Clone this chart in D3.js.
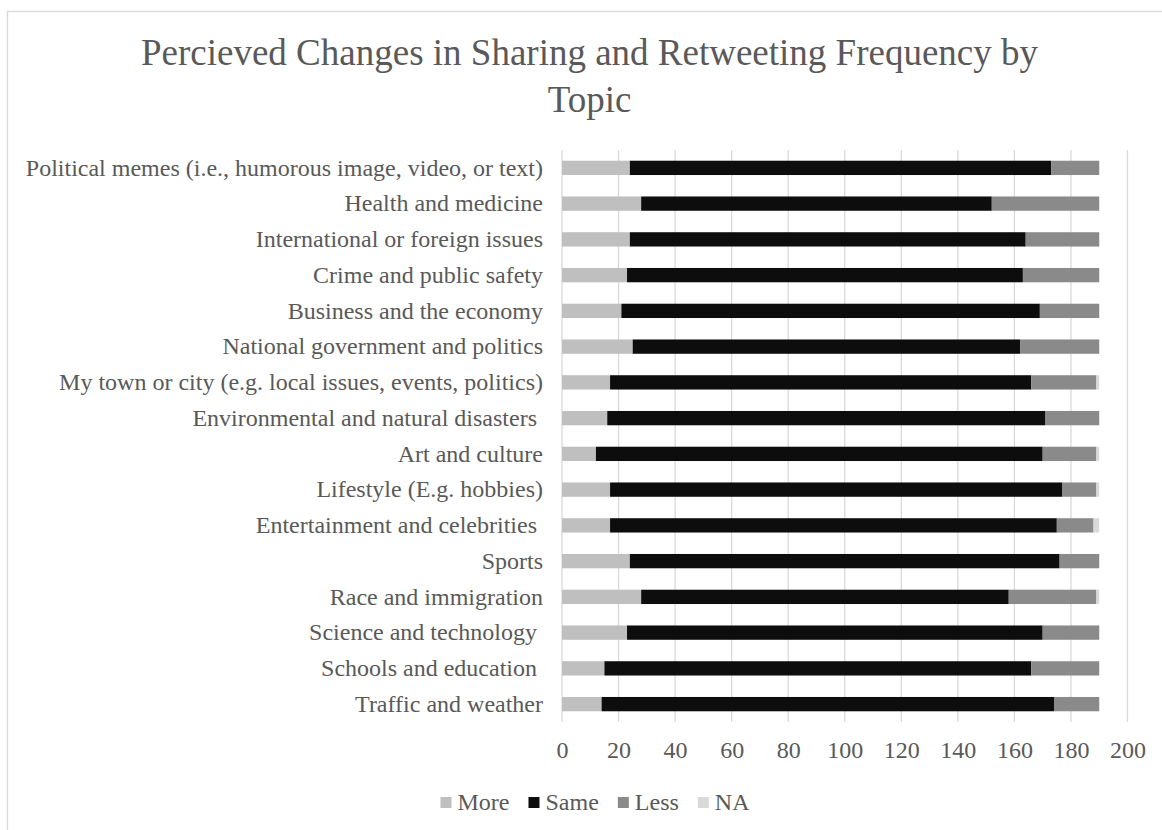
<!DOCTYPE html>
<html>
<head>
<meta charset="utf-8">
<script src="https://cdn.jsdelivr.net/npm/d3@7"></script>
<style>
  html, body { margin: 0; padding: 0; background: #fff; }
  svg { display: block; font-family: "Liberation Serif", "Times New Roman", serif; }
  text { white-space: pre; }
</style>
</head>
<body>
<div id="chart"></div>
<script>
const categories = [
  "Political memes (i.e., humorous image, video, or text)",
  "Health and medicine",
  "International or foreign issues",
  "Crime and public safety",
  "Business and the economy",
  "National government and politics",
  "My town or city (e.g. local issues, events, politics)",
  "Environmental and natural disasters ",
  "Art and culture",
  "Lifestyle (E.g. hobbies)",
  "Entertainment and celebrities ",
  "Sports",
  "Race and immigration",
  "Science and technology ",
  "Schools and education ",
  "Traffic and weather"
];
const more = [24, 28, 24, 23, 21, 25, 17, 16, 12, 17, 17, 24, 28, 23, 15, 14];
const same = [149, 124, 140, 140, 148, 137, 149, 155, 158, 160, 158, 152, 130, 147, 151, 160];
const less = [17, 38, 26, 27, 21, 28, 23, 19, 19, 12, 13, 14, 31, 20, 24, 16];
const na = [0, 0, 0, 0, 0, 0, 1, 0, 1, 1, 2, 0, 1, 0, 0, 0];
const seriesNames = ["More", "Same", "Less", "NA"];
const xTicks = [0, 20, 40, 60, 80, 100, 120, 140, 160, 180, 200];
const titleLines = ["Percieved Changes in Sharing and Retweeting Frequency by", "Topic"];

const colors = { More: "#bfbfbf", Same: "#0d0d0d", Less: "#8a8a8a", NA: "#d9d9d9" };
const textColor = "#595959";
const fontSize = 24;

const width = 1162, height = 830;
const svg = d3.select("#chart").append("svg")
  .attr("width", width).attr("height", height)
  .attr("viewBox", [0, 0, width, height]);

// chart area border (runs off the right/bottom edge like the source crop)
svg.append("rect")
  .attr("x", 7.5).attr("y", 11.5)
  .attr("width", width + 10).attr("height", height + 10)
  .attr("fill", "#fff").attr("stroke", "#d9d9d9").attr("stroke-width", 1.3);

const table = categories.map((c, i) => ({ category: c, More: more[i], Same: same[i], Less: less[i], NA: na[i] }));
const stacked = d3.stack().keys(seriesNames)(table);

const x = d3.scaleLinear().domain([0, 200]).range([562, 1127.5]);
const y = d3.scaleBand().domain(categories).range([150, 722]).paddingInner(0.6).paddingOuter(0.3);

// title
svg.append("g").selectAll("text")
  .data(titleLines)
  .join("text")
  .attr("x", 589.5)
  .attr("y", (_, i) => 65 + i * 46.5)
  .attr("text-anchor", "middle")
  .attr("font-size", 37)
  .attr("fill", textColor)
  .text((d) => d);

// gridlines
svg.append("g").selectAll("line")
  .data(xTicks)
  .join("line")
  .attr("x1", (d) => x(d)).attr("x2", (d) => x(d))
  .attr("y1", 150).attr("y2", 722)
  .attr("stroke", "#d9d9d9").attr("stroke-width", 1.3);

// bars
svg.append("g").selectAll("g")
  .data(stacked)
  .join("g")
  .attr("fill", (s) => colors[s.key])
  .selectAll("rect")
  .data((s) => s)
  .join("rect")
  .attr("x", (d) => x(d[0]))
  .attr("width", (d) => x(d[1]) - x(d[0]))
  .attr("y", (d) => y(d.data.category))
  .attr("height", y.bandwidth());

// axes
const xAxis = svg.append("g")
  .attr("transform", "translate(0,722)")
  .call(d3.axisBottom(x).tickValues(xTicks).tickSize(0).tickPadding(19));
const yAxis = svg.append("g")
  .attr("transform", "translate(562,0)")
  .call(d3.axisLeft(y).tickSize(0).tickPadding(19));
[xAxis, yAxis].forEach((g) => {
  g.select(".domain").remove();
  g.selectAll("text")
    .attr("font-family", '"Liberation Serif", "Times New Roman", serif')
    .attr("font-size", fontSize)
    .attr("fill", textColor)
    .attr("xml:space", "preserve");
});

// legend
const legend = svg.append("g");
const items = legend.selectAll("g").data(seriesNames).join("g");
items.append("rect")
  .attr("width", 11).attr("height", 11).attr("y", -13)
  .attr("fill", (d) => colors[d]);
items.append("text")
  .attr("x", 17)
  .attr("font-size", fontSize)
  .attr("fill", textColor)
  .text((d) => d);
let cursor = 0;
items.each(function () {
  const g = d3.select(this);
  g.attr("transform", `translate(${cursor},0)`);
  cursor += 17 + g.select("text").node().getComputedTextLength() + 19;
});
const legendWidth = cursor - 19;
legend.attr("transform", `translate(${595 - legendWidth / 2},810)`);
</script>
</body>
</html>
